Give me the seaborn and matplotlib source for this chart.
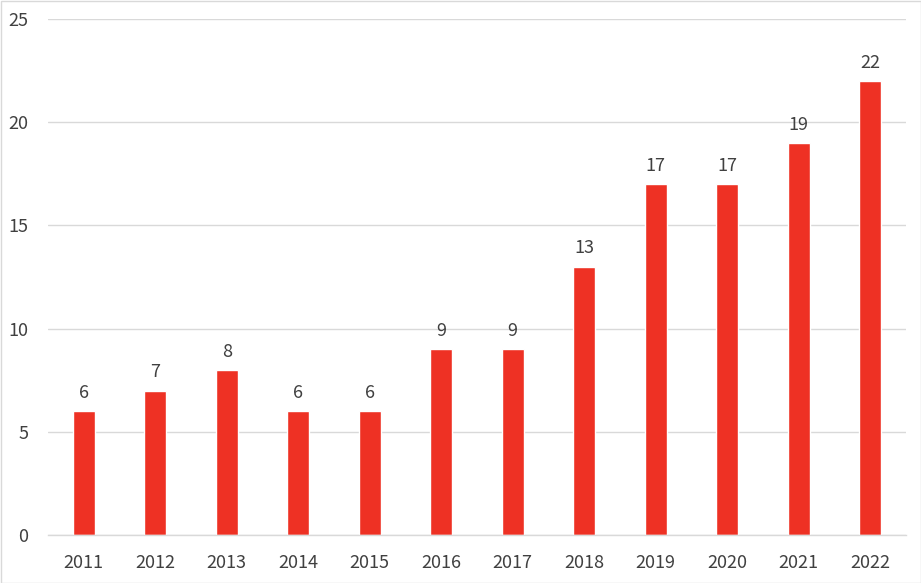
import matplotlib
matplotlib.use("Agg")
import matplotlib.pyplot as plt
import seaborn as sns
import pandas as pd

years = ["2011", "2012", "2013", "2014", "2015", "2016", "2017", "2018", "2019", "2020", "2021", "2022"]
counts = [6, 7, 8, 6, 6, 9, 9, 13, 17, 17, 19, 22]
yticks = [0, 5, 10, 15, 20, 25]

sns.set_theme(style="white")
plt.rcParams['font.family'] = ['Noto Sans CJK KR', 'DejaVu Sans']

df = pd.DataFrame({"year": years, "count": counts})
fig = plt.figure(figsize=(9.21, 5.83), dpi=100)
ax = fig.add_axes([48/921, 48/583, 858/921, 516/583])

sns.barplot(data=df, x="year", y="count", color="#EE3124", saturation=1, width=0.31, ax=ax)

text_color = "#404040"
for i, v in enumerate(counts):
    ax.text(i, v + 0.45, str(v), ha="center", va="bottom", fontsize=13, color=text_color)

ax.set_ylim(0, 25)
ax.set_xlim(-0.5, len(years) - 0.5)
ax.set_yticks(yticks)
ax.yaxis.grid(True, color="#D9D9D9", linewidth=1)
ax.set_axisbelow(True)
for s in ["top", "right", "left"]:
    ax.spines[s].set_visible(False)
ax.spines["bottom"].set_color("#D9D9D9")
ax.spines["bottom"].set_linewidth(1)
ax.tick_params(axis="both", length=0, labelsize=13, labelcolor=text_color)
ax.tick_params(axis="y", pad=14)
ax.tick_params(axis="x", pad=14)
ax.set_xlabel("")
ax.set_ylabel("")

fig.patches.append(plt.Rectangle((0.5/921, 0.5/583), 1 - 1/921, 1 - 1/583, transform=fig.transFigure,
                                 fill=False, edgecolor="#D9D9D9", linewidth=1))
fig.savefig("out.png", dpi=100)
